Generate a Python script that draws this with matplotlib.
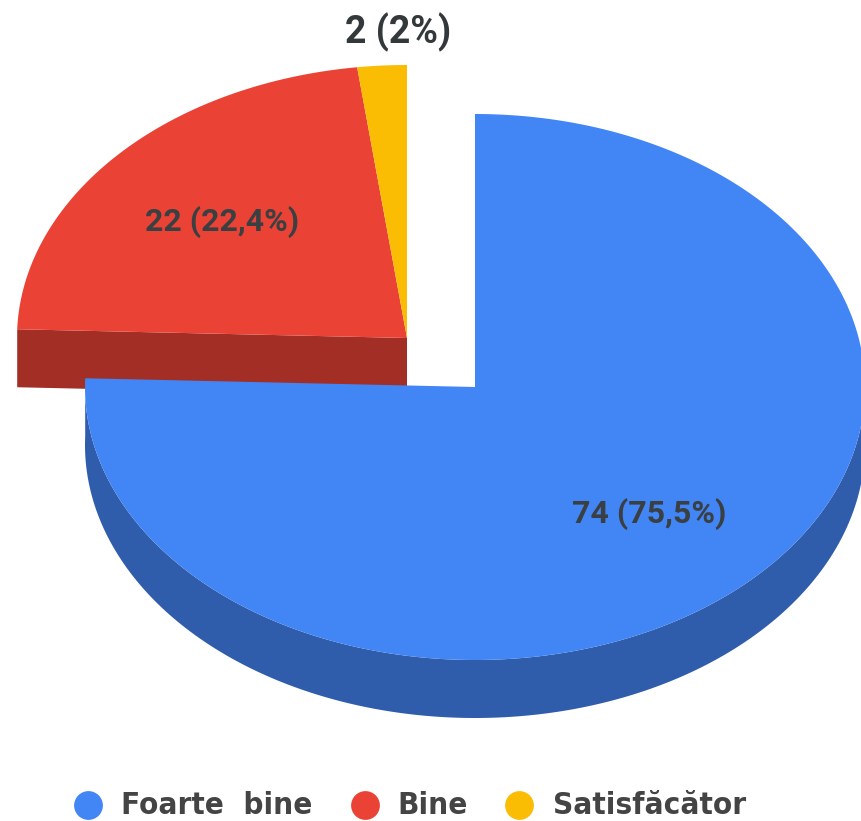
import numpy as np
import matplotlib
matplotlib.use("Agg")
import matplotlib.pyplot as plt

categories = ["Foarte  bine", "Bine", "Satisfăcător"]
values = [74, 22, 2]
labels = ["74 (75,5%)", "22 (22,4%)", "2 (2%)"]
colors = ["#4285f4", "#ea4335", "#fbbc04"]
side_colors = ["#2f5cab", "#a32e25"]

RX, RY, DEPTH = 390, 273, 58
BLUE_C = (475, 387)
REST_C = (407, 338)

fig = plt.figure(figsize=(8.61, 8.21), dpi=100)
ax = fig.add_axes([0, 0, 1, 1])
ax.set_xlim(0, 861)
ax.set_ylim(821, 0)
ax.axis("off")

shares = np.array(values) / sum(values) * 360
edges = np.concatenate([[0], np.cumsum(shares)])


def arc(c, a0, a1):
    a = np.radians(np.linspace(a0, a1, 300))
    return c[0] + RX * np.sin(a), c[1] - RY * np.cos(a)


def top(c, a0, a1, color, z):
    x, y = arc(c, a0, a1)
    ax.fill(np.r_[c[0], x], np.r_[c[1], y], color=color, lw=0, zorder=z)


# red cut face
x, y = arc(REST_C, edges[1], edges[1])
ax.fill([REST_C[0], x[0], x[0], REST_C[0]],
        [REST_C[1], y[0], y[0] + DEPTH, REST_C[1] + DEPTH],
        color=side_colors[1], lw=0, zorder=1)
top(REST_C, edges[1], edges[2], colors[1], 2)
top(REST_C, edges[2], edges[3], colors[2], 2)

# blue outer wall
x, y = arc(BLUE_C, 90, edges[1])
ax.fill(np.r_[x, x[::-1]], np.r_[y, y[::-1] + DEPTH],
        color=side_colors[0], lw=0, zorder=3)
top(BLUE_C, edges[0], edges[1], colors[0], 4)

FONT = "Roboto"
TXT = "#3a3f42"
ax.text(649, 514, labels[0], ha="center", va="center", fontsize=23, fontweight="bold",
        family=FONT, color=TXT, zorder=6)
ax.text(222, 222, labels[1], ha="center", va="center", fontsize=23, fontweight="bold",
        family=FONT, color=TXT, zorder=6)
ax.text(398, 32, labels[2], ha="center", va="center", fontsize=27, fontweight="bold",
        family=FONT, color="#33383b", zorder=6)

legend_marker_x = [88, 365, 519]
legend_text_x = [121, 397, 553]
for c, mx, tx, col in zip(categories, legend_marker_x, legend_text_x, colors):
    ax.scatter([mx], [805], s=430, color=col, lw=0, zorder=6)
    ax.text(tx, 805, c, ha="left", va="center", fontsize=22.5, fontweight="bold",
            family="DejaVu Sans", stretch="condensed", color="#444444", zorder=6)

fig.savefig("out.png", dpi=100)
